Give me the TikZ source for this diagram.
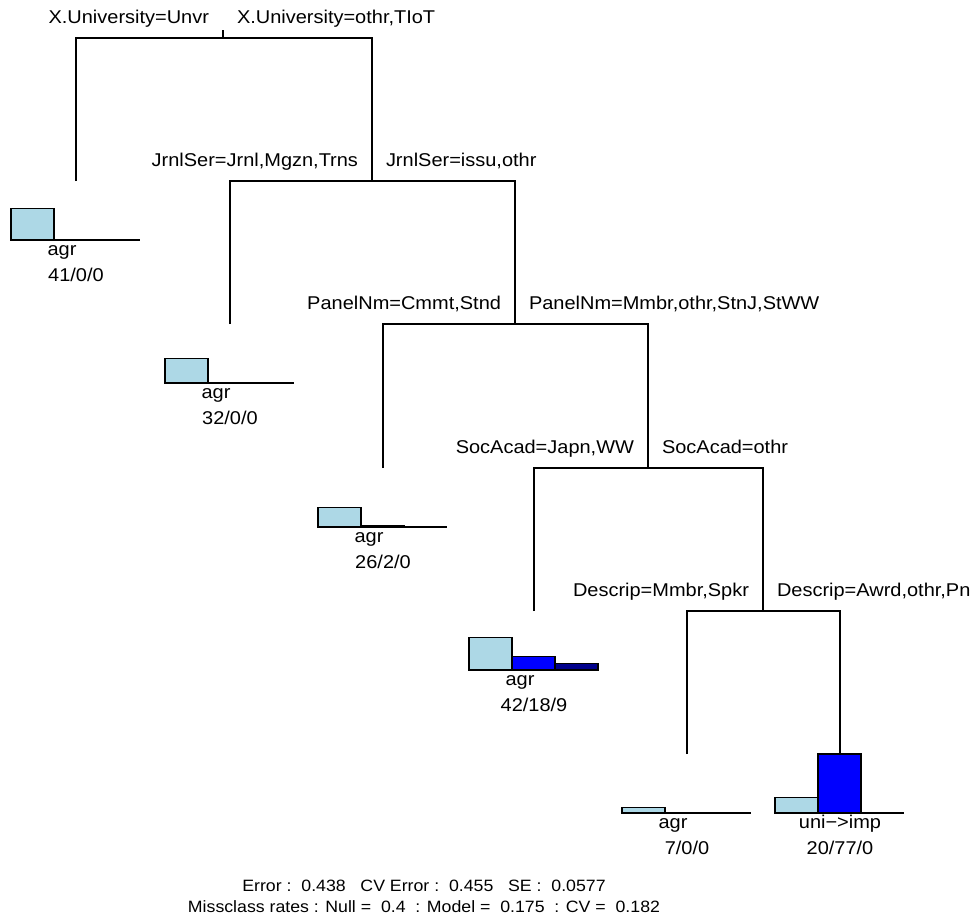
\documentclass[tikz,border=0pt]{standalone}
\usepackage{fontspec}
\setmainfont{Liberation Sans}[FakeStretch=1.08]
\definecolor{lb}{HTML}{ADD8E6}
\definecolor{bb}{HTML}{0000FF}
\definecolor{nb}{HTML}{00008B}
\begin{document}
\begin{tikzpicture}[x=1pt,y=-1pt,
  every node/.style={inner sep=0pt,outer sep=0pt,font=\fontsize{18.5}{22}\selectfont},
  edge/.style={draw=black,line width=1.2pt},
  barA/.style={draw=black,line width=1.1pt,fill=lb},
  barB/.style={draw=black,line width=1.1pt,fill=bb},
  barC/.style={draw=black,line width=1.1pt,fill=nb},
  base/.style={draw=black,line width=1.3pt},
  lft/.style={anchor=base east},
  rgt/.style={anchor=base west},
  ctr/.style={anchor=base},
  foot/.style={anchor=base,font=\fontsize{16.4}{20}\selectfont}]
\path[use as bounding box] (0,0) rectangle (977,921);
% split points and leaf tops
\coordinate (S1) at (223,38);
\coordinate (S1t) at (223,30);
\coordinate (S2) at (372,181);
\coordinate (S3) at (515,324);
\coordinate (S4) at (648,468);
\coordinate (S5) at (763,611);
\coordinate (L1) at (76,181);
\coordinate (L2) at (230,324);
\coordinate (L3) at (383,468);
\coordinate (L4) at (534,611);
\coordinate (L5) at (687,754);
\coordinate (L6) at (840,754);
% tree
\draw[edge] (S1) -- (S1t);
\draw[edge] (L1) -- (L1 |- S1) -- (S2 |- S1) -- (S2);
\draw[edge] (L2) -- (L2 |- S2) -- (S3 |- S2) -- (S3);
\draw[edge] (L3) -- (L3 |- S3) -- (S4 |- S3) -- (S4);
\draw[edge] (L4) -- (L4 |- S4) -- (S5 |- S4) -- (S5);
\draw[edge] (L5) -- (L5 |- S5) -- (L6 |- S5) -- (L6);
% split labels
\node[lft] (t1l) at (209,23) {X.University=Unvr};
\node[rgt] (t1r) at (237,23) {X.University=othr,TIoT};
\node[lft] (t2l) at (358,166) {JrnlSer=Jrnl,Mgzn,Trns};
\node[rgt] (t2r) at (386,166) {JrnlSer=issu,othr};
\node[lft] (t3l) at (501,309) {PanelNm=Cmmt,Stnd};
\node[rgt] (t3r) at (529,309) {PanelNm=Mmbr,othr,StnJ,StWW};
\node[lft] (t4l) at (634,453) {SocAcad=Japn,WW};
\node[rgt] (t4r) at (662,453) {SocAcad=othr};
\node[lft] (t5l) at (749,596) {Descrip=Mmbr,Spkr};
\node[rgt] (t5r) at (777,596) {Descrip=Awrd,othr,Pn};
% leaf 1
\draw[barA] (11,240) rectangle (54,208.6);
\draw[base] (11,240) -- (140,240);
\node[ctr] (c1) at (62,255) {agr};
\node[ctr] (n1) at (76,281) {41/0/0};
% leaf 2
\draw[barA] (165,383) rectangle (208,358.5);
\draw[base] (165,383) -- (294,383);
\node[ctr] (c2) at (216,398) {agr};
\node[ctr] (n2) at (230,424) {32/0/0};
% leaf 3
\draw[barA] (318,527) rectangle (361,507.1);
\draw[barB] (361,527) rectangle (404,525.5);
\draw[base] (318,527) -- (447,527);
\node[ctr] (c3) at (369,542) {agr};
\node[ctr] (n3) at (383,568) {26/2/0};
% leaf 4
\draw[barA] (469,670) rectangle (512,637.9);
\draw[barB] (512,670) rectangle (555,656.2);
\draw[barC] (555,670) rectangle (598,663.1);
\draw[base] (469,670) -- (598,670);
\node[ctr] (c4) at (520,685) {agr};
\node[ctr] (n4) at (534,711) {42/18/9};
% leaf 5
\draw[barA] (622,813) rectangle (665,807.6);
\draw[base] (622,813) -- (751,813);
\node[ctr] (c5) at (673,828) {agr};
\node[ctr] (n5) at (687,854) {7/0/0};
% leaf 6
\draw[barA] (775,813) rectangle (818,797.7);
\draw[barB] (818,813) rectangle (861,754);
\draw[base] (775,813) -- (904,813);
\node[ctr] (c6) at (840,828) {uni−>imp};
\node[ctr] (n6) at (840,854) {20/77/0};
% footer
\node[foot] (f1) at (424,891) {Error :\ \ 0.438\ \ \ CV Error :\ \ 0.455\ \ \ SE :\ \ 0.0577};
\node[foot] (f2) at (424,912) {Missclass rates : Null =\ \ 0.4\ \ : Model =\ \ 0.175\ \ : CV =\ \ 0.182};
\end{tikzpicture}
\end{document}
